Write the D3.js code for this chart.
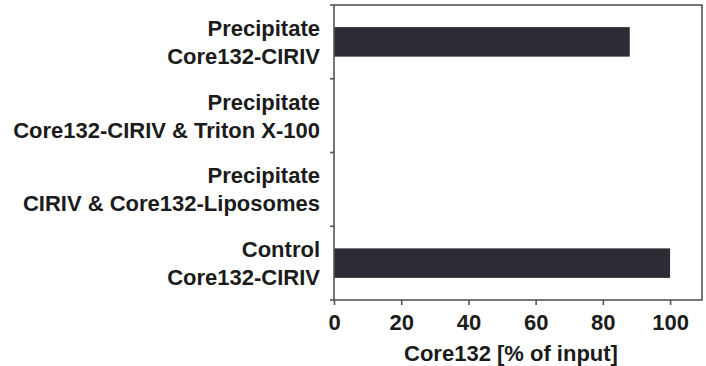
<!DOCTYPE html>
<html>
<head>
<meta charset="utf-8">
<script src="https://cdn.jsdelivr.net/npm/d3@7"></script>
<style>
  body { margin: 0; background: #fff; }
  text { font-family: "Liberation Sans", Arial, sans-serif; font-weight: bold; fill: #1b1b1b; }
</style>
</head>
<body>
<script>
// Chart data
var categories = [
  ["Precipitate", "Core132-CIRIV"],
  ["Precipitate", "Core132-CIRIV & Triton X-100"],
  ["Precipitate", "CIRIV & Core132-Liposomes"],
  ["Control", "Core132-CIRIV"]
];
var values = [88, 0, 0, 100];
var xTicks = [0, 20, 40, 60, 80, 100];
var xTitle = "Core132 [% of input]";

// SVG area
var svgWidth = 706;
var svgHeight = 366;

var chartMargin = { top: 5, right: 4, bottom: 66, left: 334 };
var chartWidth = svgWidth - chartMargin.left - chartMargin.right;
var chartHeight = svgHeight - chartMargin.top - chartMargin.bottom;

var svg = d3.select("body")
  .append("svg")
  .attr("width", svgWidth)
  .attr("height", svgHeight);

var chartGroup = svg.append("g")
  .attr("transform", `translate(${chartMargin.left}, ${chartMargin.top})`);

// Scales
var xLinearScale = d3.scaleLinear()
  .domain([0, 109.5])
  .range([0, chartWidth]);

var yBandScale = d3.scaleBand()
  .domain(d3.range(categories.length))
  .range([0, chartHeight]);

var barFraction = 0.4;
var barHeight = yBandScale.bandwidth() * barFraction;

// Bars
chartGroup.selectAll(".bar")
  .data(values)
  .enter()
  .append("rect")
  .attr("class", "bar")
  .attr("x", xLinearScale(0))
  .attr("y", (d, i) => yBandScale(i) + (yBandScale.bandwidth() - barHeight) / 2)
  .attr("width", d => xLinearScale(d) - xLinearScale(0))
  .attr("height", barHeight)
  .attr("fill", "#2c2d34");

// Frame
chartGroup.append("rect")
  .attr("x", 0)
  .attr("y", 0)
  .attr("width", chartWidth)
  .attr("height", chartHeight)
  .attr("fill", "none")
  .attr("stroke", "#555")
  .attr("stroke-width", 1.6);

// Left axis ticks at band boundaries
var boundaries = d3.range(categories.length + 1).map(i => i * yBandScale.step());
chartGroup.selectAll(".ytick")
  .data(boundaries)
  .enter()
  .append("line")
  .attr("x1", -4)
  .attr("x2", 0)
  .attr("y1", d => d)
  .attr("y2", d => d)
  .attr("stroke", "#555")
  .attr("stroke-width", 1.6);

// Category labels
var lineGap = 28;
var labels = chartGroup.selectAll(".ylabel")
  .data(categories)
  .enter()
  .append("text")
  .attr("class", "ylabel")
  .attr("text-anchor", "end")
  .attr("font-size", 22)
  .attr("transform", (d, i) => `translate(-14, ${yBandScale(i) + yBandScale.bandwidth() / 2})`);

labels.selectAll("tspan")
  .data(d => d)
  .enter()
  .append("tspan")
  .attr("x", 0)
  .attr("y", (d, j) => j === 0 ? -6 : -6 + lineGap)
  .text(d => d);

// Bottom axis
var bottomAxis = d3.axisBottom(xLinearScale)
  .tickValues(xTicks)
  .tickSize(5)
  .tickPadding(9);

var xAxisGroup = chartGroup.append("g")
  .attr("transform", `translate(0, ${chartHeight})`)
  .call(bottomAxis);

xAxisGroup.select(".domain").remove();
xAxisGroup.selectAll(".tick line")
  .attr("stroke", "#555")
  .attr("stroke-width", 1.6);
xAxisGroup.selectAll(".tick text")
  .attr("font-size", 22)
  .attr("font-family", "Liberation Sans, Arial, sans-serif")
  .attr("fill", "#1b1b1b");

// Axis title
chartGroup.append("text")
  .attr("text-anchor", "middle")
  .attr("font-size", 22)
  .attr("x", 177)
  .attr("y", chartHeight + 61)
  .text(xTitle);
</script>
</body>
</html>
